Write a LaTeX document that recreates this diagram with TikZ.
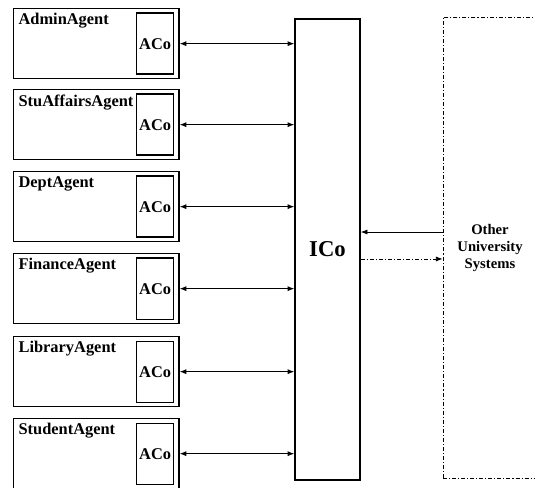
\documentclass[tikz,border=0pt]{standalone}
\usepackage{fontspec}
\setmainfont{Liberation Serif}
\usetikzlibrary{arrows.meta,positioning}

\begin{document}
\begin{tikzpicture}[x=0.75pt,y=-0.75pt,font=\bfseries\fontsize{12.3}{14}\selectfont,
    agent/.style={draw,line width=1pt,minimum width=124pt,minimum height=52.5pt,anchor=north west,
      label={[anchor=north west,inner sep=4pt]north west:#1}},
    aco/.style={draw,line width=1pt,minimum width=27.75pt,minimum height=45.75pt,inner sep=0pt,anchor=east},
    link/.style={{Latex[length=5pt,width=3.8pt]}-{Latex[length=5pt,width=3.8pt]},line width=0.6pt},
    oneway/.style={-{Latex[length=5pt,width=3.8pt]},line width=0.6pt},
    dashdot/.style={dash pattern=on 3pt off 1.5pt on 0.8pt off 1.5pt}]
    \useasboundingbox (0,0) rectangle (535,488);
    % agents on the left, each with its own ACo
    \node[agent=AdminAgent] (admin) at (13,8) {};
    \node[agent=StuAffairsAgent] (stu) at (13,89) {};
    \node[agent=DeptAgent] (dept) at (13,171) {};
    \node[agent=FinanceAgent] (fin) at (13,253) {};
    \node[agent=LibraryAgent] (lib) at (13,336) {};
    \node[agent=StudentAgent] (student) at (13,418) {};
    \node[aco] (aco1) at ([xshift=-4pt]admin.east) {ACo};
    \node[aco] (aco2) at ([xshift=-4pt]stu.east) {ACo};
    \node[aco] (aco3) at ([xshift=-4pt]dept.east) {ACo};
    \node[aco] (aco4) at ([xshift=-4pt]fin.east) {ACo};
    \node[aco] (aco5) at ([xshift=-4pt]lib.east) {ACo};
    \node[aco] (aco6) at ([xshift=-4pt]student.east) {ACo};
    % integration component and outside systems
    \node[draw,line width=1.1pt,minimum width=48.75pt,minimum height=345.75pt,font=\bfseries\fontsize{17}{20}\selectfont] (ico) at (327.5,249.5) {ICo};
    \node[draw,dashdot,line width=0.6pt,minimum width=70.5pt,minimum height=345.75pt,align=center,font=\bfseries\fontsize{11}{12.75}\selectfont] (oth) at (490,247.5) {Other\\University\\Systems};
    \draw[link] (admin.east) -- (admin.east -| ico.west);
    \draw[link] (stu.east) -- (stu.east -| ico.west);
    \draw[link] (dept.east) -- (dept.east -| ico.west);
    \draw[link] (fin.east) -- (fin.east -| ico.west);
    \draw[link] (lib.east) -- (lib.east -| ico.west);
    \draw[link] (student.east) -- (student.east -| ico.west);
    \draw[oneway] ([yshift=11.6pt]oth.west) -- ([yshift=11.6pt]oth.west -| ico.east);
    \draw[oneway,dashdot] ([yshift=-8.6pt]oth.west -| ico.east) -- ([yshift=-8.6pt]oth.west);
  \end{tikzpicture}
\end{document}
